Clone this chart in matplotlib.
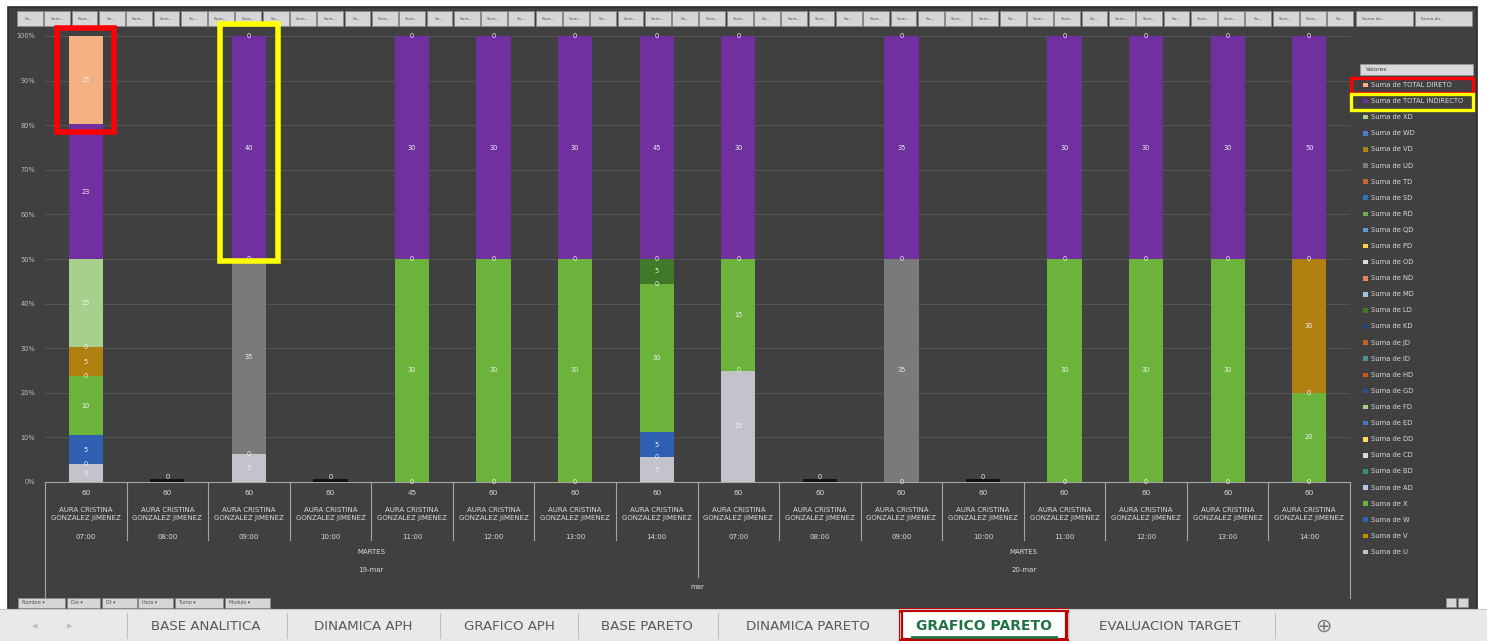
import matplotlib

matplotlib.use("Agg")
import matplotlib.pyplot as plt
from matplotlib.patches import Rectangle
import numpy as np

# Pixel canvas of the screenshot
W, H = 1487, 641

# ---- data -----------------------------------------------------------------
SERIES = ["U", "V", "W", "X", "AD", "BD", "CD", "DD", "ED", "FD", "GD", "HD",
          "ID", "JD", "KD", "LD", "MD", "ND", "OD", "PD", "QD", "RD", "SD",
          "TD", "UD", "VD", "WD", "XD", "TOTAL INDIRECTO", "TOTAL DIRECTO"]
COLORS = ["#c3c3cc", "#bf9000", "#2f5fb3", "#6cb33c", "#b4c7e7", "#3c8f6e",
          "#d9d9d9", "#ffd966", "#4472c4", "#a9d18e", "#2f4f8f", "#c55a11",
          "#4f8f8f", "#c0652a", "#264478", "#3f7a2a", "#9dc3e6", "#e08a5a",
          "#dcdcdc", "#ffd24d", "#5b9bd5", "#70ad47", "#2e75b6", "#c8642d",
          "#7a7a7a", "#b08010", "#4a7cc4", "#a8d08d", "#7030a0", "#f4b183"]

HOURS = ["07:00", "08:00", "09:00", "10:00", "11:00", "12:00", "13:00", "14:00",
         "07:00", "08:00", "09:00", "10:00", "11:00", "12:00", "13:00", "14:00"]
MINUTES = [60, 60, 60, 60, 45, 60, 60, 60, 60, 60, 60, 60, 60, 60, 60, 60]
NAME = "AURA CRISTINA\nGONZALEZ JIMENEZ"
DAYS = ["19-mar", "20-mar"]
WEEKDAY = "MARTES"
MONTH = "mar"

# non-zero series, per column (all other series are zero)
U_VALS = [3, 0, 5, 0, 0, 0, 0, 5, 15, 0, 0, 0, 0, 0, 0, 0]
W_VALS = [5, 0, 0, 0, 0, 0, 0, 5, 0, 0, 0, 0, 0, 0, 0, 0]
X_VALS = [10, 0, 0, 0, 30, 30, 30, 30, 15, 0, 0, 0, 30, 30, 30, 20]
LD_VALS = [0, 0, 0, 0, 0, 0, 0, 5, 0, 0, 0, 0, 0, 0, 0, 0]
UD_VALS = [0, 0, 35, 0, 0, 0, 0, 0, 0, 0, 35, 0, 0, 0, 0, 0]
VD_VALS = [5, 0, 0, 0, 0, 0, 0, 0, 0, 0, 0, 0, 0, 0, 0, 30]
XD_VALS = [15, 0, 0, 0, 0, 0, 0, 0, 0, 0, 0, 0, 0, 0, 0, 0]
INDIRECTO = [23, 0, 40, 0, 30, 30, 30, 45, 30, 0, 35, 0, 30, 30, 30, 50]
DIRECTO = [15, 0, 0, 0, 0, 0, 0, 0, 0, 0, 0, 0, 0, 0, 0, 0]

n = len(HOURS)
values = {s: np.zeros(n) for s in SERIES}
values["U"][:] = U_VALS
values["W"][:] = W_VALS
values["X"][:] = X_VALS
values["LD"][:] = LD_VALS
values["UD"][:] = UD_VALS
values["VD"][:] = VD_VALS
values["XD"][:] = XD_VALS
values["TOTAL INDIRECTO"][:] = INDIRECTO
values["TOTAL DIRECTO"][:] = DIRECTO

totals = sum(values[s] for s in SERIES)
safe = np.where(totals > 0, totals, 1)

# ---- layout ---------------------------------------------------------------
PX_L, PX_R, PX_TOP, PX_BOT = 45, 1350, 36, 482
CAT_W = (PX_R - PX_L) / n


def cx(k):
    """pixel x of category centre k"""
    return PX_L + (k + 0.5) * CAT_W


TXT = "#d9d9d9"
BG = "#404040"

fig = plt.figure(figsize=(W / 100, H / 100), dpi=100)
fig.patch.set_facecolor("white")

bg = fig.add_axes([0, 0, 1, 1], zorder=0)
bg.set_xlim(0, W)
bg.set_ylim(H, 0)
bg.axis("off")

ax = fig.add_axes([PX_L / W, (H - PX_BOT) / H, (PX_R - PX_L) / W,
                   (PX_BOT - PX_TOP) / H], zorder=1)
ax.set_facecolor("none")

fg = fig.add_axes([0, 0, 1, 1], zorder=2)
fg.set_xlim(0, W)
fg.set_ylim(H, 0)
fg.axis("off")
fg.patch.set_alpha(0)

# chart area
bg.add_patch(Rectangle((8, 7), 1469, 603, facecolor=BG, edgecolor="#2b2b2b",
                       linewidth=1.2))

# field buttons on top
bx = 17
for i in range(49):
    bg.add_patch(Rectangle((bx, 11), 25.8, 15, facecolor="#d6d6d6",
                           edgecolor="#8a8a8a", linewidth=0.5))
    bg.text(bx + 12.9, 18.5, "Sum..." if i % 3 else "Su...", fontsize=3.2,
            ha="center", va="center", color="#505050")
    bx += 27.3
for x0, w0 in [(1356, 57), (1415, 57)]:
    bg.add_patch(Rectangle((x0, 11), w0, 15, facecolor="#d6d6d6",
                           edgecolor="#8a8a8a", linewidth=0.5))
    bg.text(x0 + 6, 18.5, "Suma de...", fontsize=3.2, ha="left",
            va="center", color="#505050")

# ---- stacked 100 % bars ----------------------------------------------------
x = np.arange(n)
BAR_W = 0.42
bottom = np.zeros(n)
zero_spots = [set() for _ in range(n)]
for s, col in zip(SERIES, COLORS):
    h = values[s] / safe * 100
    ax.bar(x, h, BAR_W, bottom=bottom, color=col, linewidth=0, zorder=3)
    for k in range(n):
        if totals[k] == 0:
            continue
        v = values[s][k]
        if v == 0:
            # Excel stacks every zero label on the same spot; draw it once
            zero_spots[k].add(round(bottom[k], 3))
            continue
        ax.text(k, bottom[k] + h[k] / 2, f"{v:.0f}", ha="center",
                va="center", fontsize=4.8, color="#f2f2f2", zorder=4)
    bottom += h

for k, spots in enumerate(zero_spots):
    for yv in spots:
        ax.text(k, yv, "0", ha="center", va="center", fontsize=4.8,
                color="#f2f2f2", zorder=4)

# empty columns: only a dark stub and a zero label at the base
for k in range(n):
    if totals[k] == 0:
        ax.bar(k, 0.6, BAR_W, bottom=0, color="#111111", zorder=3)
        ax.text(k, 1.2, "0", ha="center", va="center", fontsize=4.8,
                color="#f2f2f2", zorder=4)

ax.set_xlim(-0.5, n - 0.5)
ax.set_ylim(0, 100)
ax.set_yticks(np.arange(0, 101, 10))
ax.set_yticklabels([f"{t}%" for t in range(0, 101, 10)], fontsize=4.8,
                   color="#bfbfbf")
ax.tick_params(axis="y", length=0, pad=7)
ax.set_xticks([])
ax.grid(axis="y", color="#565656", linewidth=0.7, zorder=0)
for sp in ["top", "right", "left"]:
    ax.spines[sp].set_visible(False)
ax.spines["bottom"].set_color("#a6a6a6")
ax.spines["bottom"].set_linewidth(0.8)

# ---- multi-level category axis -----------------------------------------------
for k in range(n):
    fg.text(cx(k), 493, str(MINUTES[k]), ha="center", va="center",
            fontsize=5.2, color=TXT)
    fg.text(cx(k), 514, NAME, ha="center", va="center", fontsize=5.0,
            color=TXT, linespacing=1.3)
    fg.text(cx(k), 537, HOURS[k], ha="center", va="center", fontsize=5.0,
            color=TXT)

half = n // 2
for k in range(n + 1):
    xb = PX_L + k * CAT_W
    if k in (0, n):
        y1 = 598
    elif k == half:
        y1 = 577
    else:
        y1 = 540
    fg.plot([xb, xb], [483, y1], color="#a6a6a6", linewidth=0.8)

for g, day in enumerate(DAYS):
    gc = PX_L + (g * half + half / 2) * CAT_W
    fg.text(gc, 552, WEEKDAY, ha="center", va="center", fontsize=5.0,
            color=TXT)
    fg.text(gc, 570, day, ha="center", va="center", fontsize=5.0, color=TXT)
fg.text(PX_L + half * CAT_W, 587, MONTH, ha="center", va="center",
        fontsize=5.0, color=TXT)

# ---- legend (drawn like Excel's, newest series on top) ----------------------
fg.add_patch(Rectangle((1360, 64), 113, 11, facecolor="#d9d9d9",
                       edgecolor="#9a9a9a", linewidth=0.5))
fg.text(1366, 69.5, "Valores", fontsize=4.2, ha="left", va="center",
        color="#404040")
legend_names = ["TOTAL DIRETO" if s == "TOTAL DIRECTO" else s
                for s in SERIES][::-1]
legend_cols = COLORS[::-1]
for i, (s, col) in enumerate(zip(legend_names, legend_cols)):
    yy = 85 + i * 16.1
    fg.add_patch(Rectangle((1363, yy - 2.3), 4.6, 4.6, facecolor=col,
                           edgecolor="none"))
    fg.text(1371, yy, f"Suma de {s}", fontsize=4.9, ha="left", va="center",
            color=TXT)

# ---- highlight boxes -------------------------------------------------------
fg.add_patch(Rectangle((57, 28), 57, 104, fill=False, edgecolor="#ff0000",
                       linewidth=4))
fg.add_patch(Rectangle((220, 24), 58, 237, fill=False, edgecolor="#ffff00",
                       linewidth=4))
fg.add_patch(Rectangle((1351, 78), 122, 15, fill=False, edgecolor="#ff0000",
                       linewidth=2.4))
fg.add_patch(Rectangle((1351, 94), 122, 16, fill=False, edgecolor="#ffff00",
                       linewidth=2.4))

# filter buttons bottom-left
for (x0, x1), lab in zip([(18, 65), (67, 100), (102, 137), (138, 173),
                          (175, 223), (225, 270)],
                         ["Nombre", "Día", "Dt", "Hora", "Turno", "Modulo"]):
    fg.add_patch(Rectangle((x0, 598), x1 - x0, 10, facecolor="#d6d6d6",
                           edgecolor="#8a8a8a", linewidth=0.5))
    fg.text(x0 + 4, 603, lab + " \u25be", fontsize=3.4, ha="left",
            va="center", color="#505050")
for x0 in (1446, 1458):
    fg.add_patch(Rectangle((x0, 598), 10, 9, facecolor="#d6d6d6",
                           edgecolor="#8a8a8a", linewidth=0.5))

# ---- sheet tabs ------------------------------------------------------------
fg.add_patch(Rectangle((0, 609), W, 32, facecolor="#e9e9e9",
                       edgecolor="none"))
fg.plot([0, W], [609, 609], color="#c8c8c8", linewidth=0.8)
fg.text(35, 626, "\u25c2", fontsize=8, ha="center", va="center",
        color="#c0c0c0")
fg.text(70, 626, "\u25b8", fontsize=8, ha="center", va="center",
        color="#c0c0c0")
TABS = ["BASE ANALITICA", "DINAMICA APH", "GRAFICO APH", "BASE PARETO",
        "DINAMICA PARETO", "GRAFICO PARETO", "EVALUACION TARGET"]
TAB_CENTERS = [206, 363, 509, 647, 808, 984, 1170]
TAB_EDGES = [127, 287, 440, 578, 718, 900, 1068, 1275]
for xe in TAB_EDGES:
    fg.plot([xe, xe], [613, 638], color="#c0c0c0", linewidth=0.8)
fg.add_patch(Rectangle((900, 610), 168, 31, facecolor="white",
                       edgecolor="none"))
for t, c in zip(TABS, TAB_CENTERS):
    if t == "GRAFICO PARETO":
        fg.text(c, 626, t, fontsize=10, ha="center", va="center",
                color="#217346", fontweight="bold")
    else:
        fg.text(c, 626, t, fontsize=9.6, ha="center", va="center",
                color="#595959")
fg.plot([912, 1056], [637, 637], color="#217346", linewidth=2)
fg.add_patch(Rectangle((901, 609.5), 166, 30, fill=False,
                       edgecolor="#c00000", linewidth=3))
fg.text(1323, 626, "\u2295", fontsize=14, ha="center", va="center",
        color="#7a7a7a")

fig.savefig("out.png", dpi=100, facecolor=fig.get_facecolor())
plt.close(fig)
